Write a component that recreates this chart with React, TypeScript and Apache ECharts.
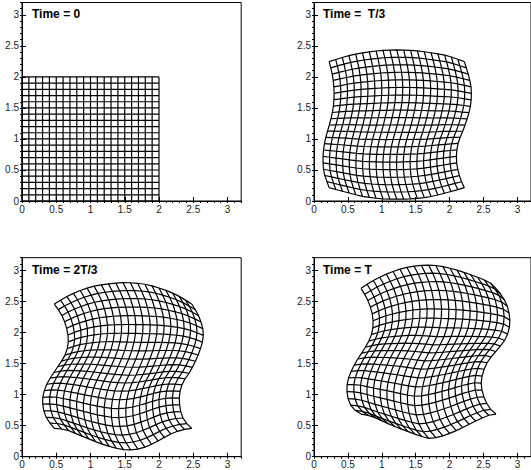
import React, { useEffect, useRef } from "react";
import * as echarts from "echarts";

// ---------- axis settings ----------
const AXIS_MIN = 0;
const AXIS_MAX = 3.2;
const MAJOR_STEP = 0.5;
const MINOR_STEP = 0.1;
const CELLS = 20; // mesh cells per side (spacing 0.1 on [0, 2])

const titles = ["Time = 0", "Time =  T/3", "Time = 2T/3", "Time = T"];

// ---------- boundary curves ----------
// bottom / top run left -> right, left / right run bottom -> top

// Time = 0
const t0Bottom = [[0, 0], [2, 0]];
const t0Top = [[0, 2], [2, 2]];
const t0Left = [[0, 0], [0, 2]];
const t0Right = [[2, 0], [2, 2]];

// Time = T/3
const t1Bottom = [[0.223, 0.215], [0.5, 0.134], [0.742, 0.07], [0.985, 0.038], [1.228, 0.03], [1.47, 0.038], [1.713, 0.07], [1.955, 0.134], [2.217, 0.215]];
const t1Top = [[0.223, 2.247], [0.5, 2.339], [0.742, 2.392], [0.985, 2.425], [1.228, 2.435], [1.47, 2.425], [1.713, 2.392], [1.955, 2.344], [2.217, 2.247]];
const t1Left = [[0.223, 0.215], [0.15, 0.45], [0.133, 0.63], [0.14, 0.82], [0.175, 1.03], [0.23, 1.24], [0.275, 1.45], [0.295, 1.65], [0.292, 1.85], [0.268, 2.05], [0.223, 2.247]];
const t1Right = [[2.217, 0.215], [2.149, 0.39], [2.1, 0.66], [2.125, 0.93], [2.22, 1.2], [2.305, 1.52], [2.319, 1.79], [2.285, 2.0], [2.217, 2.247]];

// Time = 2T/3
const t2Bottom = [[0.472, 0.456], [0.652, 0.429], [0.895, 0.322], [1.139, 0.215], [1.382, 0.135], [1.577, 0.108], [1.771, 0.145], [1.966, 0.242], [2.161, 0.36], [2.331, 0.429], [2.477, 0.456]];
const t2Top = [[0.472, 2.455], [0.652, 2.573], [0.895, 2.691], [1.139, 2.76], [1.479, 2.798], [1.771, 2.777], [2.015, 2.707], [2.258, 2.6], [2.477, 2.455]];
const t2Left = [[0.472, 0.456], [0.36, 0.617], [0.311, 0.778], [0.302, 0.938], [0.336, 1.099], [0.409, 1.26], [0.506, 1.421], [0.628, 1.635], [0.676, 1.849], [0.652, 2.064], [0.579, 2.278], [0.472, 2.455]];
const t2Right = [[2.477, 0.456], [2.404, 0.536], [2.331, 0.67], [2.297, 0.885], [2.307, 1.046], [2.355, 1.206], [2.453, 1.367], [2.55, 1.581], [2.623, 1.796], [2.647, 1.957], [2.633, 2.091], [2.574, 2.278], [2.477, 2.455]];

// Time = T
const t3Bottom = [[0.694, 0.686], [0.864, 0.644], [1.082, 0.536], [1.325, 0.429], [1.567, 0.333], [1.713, 0.295], [1.907, 0.338], [2.149, 0.445], [2.392, 0.579], [2.586, 0.67], [2.683, 0.686]];
const t3Top = [[0.694, 2.707], [0.888, 2.841], [1.131, 2.964], [1.373, 3.044], [1.664, 3.082], [1.907, 3.055], [2.149, 2.986], [2.392, 2.894], [2.586, 2.803], [2.683, 2.707]];
const t3Left = [[0.694, 0.686], [0.573, 0.778], [0.509, 0.912], [0.485, 1.072], [0.5, 1.233], [0.558, 1.394], [0.636, 1.555], [0.733, 1.715], [0.815, 1.876], [0.864, 2.037], [0.869, 2.225], [0.83, 2.412], [0.767, 2.573], [0.694, 2.707]];
const t3Right = [[2.683, 0.686], [2.625, 0.735], [2.547, 0.858], [2.489, 1.019], [2.465, 1.18], [2.489, 1.34], [2.547, 1.501], [2.635, 1.635], [2.741, 1.769], [2.829, 1.903], [2.878, 2.064], [2.887, 2.225], [2.853, 2.412], [2.78, 2.573], [2.683, 2.707]];

const boundaries = [
  { bottom: t0Bottom, top: t0Top, left: t0Left, right: t0Right },
  { bottom: t1Bottom, top: t1Top, left: t1Left, right: t1Right },
  { bottom: t2Bottom, top: t2Top, left: t2Left, right: t2Right },
  { bottom: t3Bottom, top: t3Top, left: t3Left, right: t3Right },
];

// ---------- layout (pixels) ----------
const grids = [
  { left: 22, top: 2.5, width: 219.2, height: 198.5, tx: 32, ty: 14 },
  { left: 314, top: 2.5, width: 219.8, height: 198.5, tx: 323, ty: 14 },
  { left: 22, top: 257.7, width: 219.2, height: 199, tx: 32, ty: 270 },
  { left: 314, top: 257.7, width: 219.8, height: 199, tx: 323, ty: 270 },
];

type P = number[];

function densify(pts: P[]): P[] {
  const n = pts.length;
  if (n < 3) {
    const out: P[] = [];
    for (let k = 0; k <= 40; k++) {
      const t = k / 40;
      out.push([pts[0][0] + (pts[1][0] - pts[0][0]) * t, pts[0][1] + (pts[1][1] - pts[0][1]) * t]);
    }
    return out;
  }
  const out: P[] = [];
  for (let i = 0; i < n - 1; i++) {
    const p0 = pts[Math.max(i - 1, 0)];
    const p1 = pts[i];
    const p2 = pts[i + 1];
    const p3 = pts[Math.min(i + 2, n - 1)];
    for (let k = 0; k < 16; k++) {
      const t = k / 16;
      const t2 = t * t;
      const t3 = t2 * t;
      const c = (a: number, b: number, cc: number, d: number) =>
        0.5 * (2 * b + (-a + cc) * t + (2 * a - 5 * b + 4 * cc - d) * t2 + (-a + 3 * b - 3 * cc + d) * t3);
      out.push([c(p0[0], p1[0], p2[0], p3[0]), c(p0[1], p1[1], p2[1], p3[1])]);
    }
  }
  out.push(pts[n - 1]);
  return out;
}

function resample(pts: P[], n: number): P[] {
  const d = densify(pts);
  const cum = [0];
  for (let i = 1; i < d.length; i++) {
    const dx = (d[i][0] - d[i - 1][0]) * 1.1;
    const dy = d[i][1] - d[i - 1][1];
    cum.push(cum[i - 1] + Math.hypot(dx, dy));
  }
  const total = cum[cum.length - 1];
  const out: P[] = [];
  let j = 0;
  for (let k = 0; k <= n; k++) {
    const s = (total * k) / n;
    while (j < cum.length - 2 && cum[j + 1] < s) j++;
    const seg = cum[j + 1] - cum[j] || 1;
    const t = Math.min(Math.max((s - cum[j]) / seg, 0), 1);
    out.push([d[j][0] + (d[j + 1][0] - d[j][0]) * t, d[j][1] + (d[j + 1][1] - d[j][1]) * t]);
  }
  return out;
}

function buildMesh(b: { bottom: P[]; top: P[]; left: P[]; right: P[] }) {
  const N = CELLS;
  const B = resample(b.bottom, N);
  const T = resample(b.top, N);
  const L = resample(b.left, N);
  const R = resample(b.right, N);
  const node = (i: number, j: number): P => {
    const u = i / N;
    const v = j / N;
    const r: P = [0, 0];
    for (let k = 0; k < 2; k++) {
      r[k] =
        (1 - v) * B[i][k] + v * T[i][k] + (1 - u) * L[j][k] + u * R[j][k] -
        ((1 - u) * (1 - v) * B[0][k] + u * (1 - v) * B[N][k] + (1 - u) * v * T[0][k] + u * v * T[N][k]);
    }
    return r;
  };
  const lines: { coords: P[] }[] = [];
  for (let j = 0; j <= N; j++) {
    const c: P[] = [];
    for (let i = 0; i <= N; i++) c.push(node(i, j));
    lines.push({ coords: c });
  }
  for (let i = 0; i <= N; i++) {
    const c: P[] = [];
    for (let j = 0; j <= N; j++) c.push(node(i, j));
    lines.push({ coords: c });
  }
  return lines;
}

const FONT = "Liberation Sans, Arial, sans-serif";

function majorAxis(gridIndex: number) {
  return {
    type: "value",
    gridIndex,
    min: AXIS_MIN,
    max: AXIS_MAX,
    interval: MAJOR_STEP,
    axisLine: { show: true, lineStyle: { color: "#000", width: 1 } },
    axisTick: { show: true, inside: true, length: 4, lineStyle: { color: "#000", width: 1 } },
    axisLabel: {
      show: true,
      showMaxLabel: false,
      fontSize: 10,
      fontFamily: FONT,
      color: "#222",
      margin: 3,
      formatter: (v: number) => (Math.abs(v * 2 - Math.round(v * 2)) < 1e-6 ? String(+v.toFixed(1)) : ""),
    },
    splitLine: { show: false },
  };
}

function minorAxis(gridIndex: number) {
  return {
    type: "value",
    gridIndex,
    min: AXIS_MIN,
    max: AXIS_MAX,
    interval: MINOR_STEP,
    axisLine: { show: false },
    axisTick: { show: true, inside: true, length: 2, lineStyle: { color: "#000", width: 1 } },
    axisLabel: { show: false },
    splitLine: { show: false },
  };
}

export default function App() {
  const ref = useRef<HTMLDivElement>(null);
  useEffect(() => {
    if (!ref.current) return;
    const chart = echarts.init(ref.current, undefined, { renderer: "svg" });
    const xAxis: any[] = [];
    const yAxis: any[] = [];
    const series: any[] = [];
    grids.forEach((g, gi) => {
      xAxis.push(majorAxis(gi), minorAxis(gi));
      yAxis.push(majorAxis(gi), minorAxis(gi));
      series.push({
        type: "lines",
        coordinateSystem: "cartesian2d",
        xAxisIndex: gi * 2,
        yAxisIndex: gi * 2,
        polyline: true,
        silent: true,
        lineStyle: { color: "#000", width: 1.2, opacity: 1 },
        data: buildMesh(boundaries[gi] as any),
      });
    });
    chart.setOption({
      animation: false,
      backgroundColor: "#fff",
      grid: grids.map((g) => ({
        left: g.left,
        top: g.top,
        width: g.width,
        height: g.height,
        show: true,
        borderColor: "#000",
        borderWidth: 1,
        containLabel: false,
      })),
      xAxis,
      yAxis,
      series,
      graphic: grids.map((g, gi) => ({
        type: "text",
        x: g.tx,
        y: g.ty,
        z: 100,
        style: {
          text: titles[gi],
          font: `bold 12px ${FONT}`,
          fill: "#000",
          verticalAlign: "middle",
          align: "left",
        },
      })),
    });
    return () => chart.dispose();
  }, []);
  return (
    <div
      ref={ref}
      style={{ position: "absolute", left: 0, top: 0, width: 531, height: 470 }}
    />
  );
}
